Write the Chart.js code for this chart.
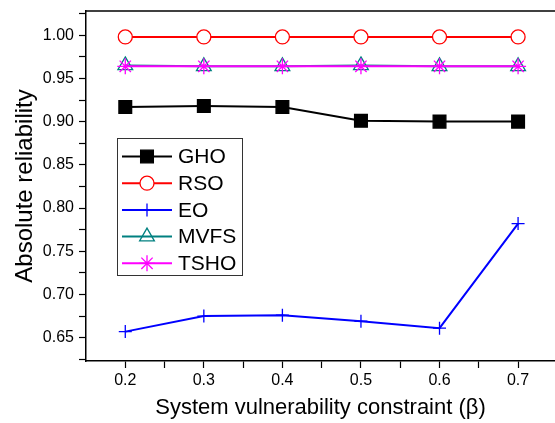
<!DOCTYPE html>
<html lang="en">

<head>
    <meta charset="UTF-8">
    <title>Absolute reliability</title>
    <style>
        body { margin: 0; background: #fff; }
        #myChart { display: block; }
    </style>
</head>

<body>
    <canvas id="myChart" width="555" height="423"></canvas>

    <script src="https://cdnjs.cloudflare.com/ajax/libs/Chart.js/4.4.1/chart.umd.js"></script>
    <script>
        // values
        var beta = [0.2, 0.3, 0.4, 0.5, 0.6, 0.7];
        var gho = [0.917, 0.918, 0.917, 0.901, 0.900, 0.900];
        var rso = [0.998, 0.998, 0.998, 0.998, 0.998, 0.998];
        var eo = [0.657, 0.675, 0.676, 0.669, 0.661, 0.782];
        var mvfs = [0.965, 0.964, 0.964, 0.965, 0.964, 0.964];
        var tsho = [0.964, 0.964, 0.964, 0.964, 0.964, 0.964];
        var seriesNames = ['GHO', 'RSO', 'EO', 'MVFS', 'TSHO'];

        var xTicks = [0.15, 0.2, 0.25, 0.3, 0.35, 0.4, 0.45, 0.5, 0.55, 0.6, 0.65, 0.7, 0.747];
        var yTicks = [0.625, 0.65, 0.675, 0.7, 0.725, 0.75, 0.775, 0.8, 0.825, 0.85, 0.875, 0.9, 0.925, 0.95, 0.975, 1.0, 1.025];

        var fontName = "'Liberation Sans', Arial, sans-serif";

        function pts(vals) {
            return vals.map(function (v, i) { return { x: beta[i], y: v }; });
        }

        function isMajor(v, step) {
            return Math.abs(v / step - Math.round(v / step)) < 1e-6;
        }

        // legend box and top frame line
        var extras = {
            id: 'extras',
            afterDraw: function (chart) {
                var ctx = chart.ctx;
                var area = chart.chartArea;
                ctx.save();
                ctx.strokeStyle = '#000';
                ctx.lineWidth = 1.5;
                ctx.beginPath();
                ctx.moveTo(area.left, area.top);
                ctx.lineTo(chart.width, area.top);
                ctx.stroke();

                ctx.fillStyle = '#fff';
                ctx.lineWidth = 1;
                ctx.strokeStyle = '#333';
                ctx.fillRect(117, 138, 126, 138);
                ctx.strokeRect(117.5, 138.5, 125, 137);

                chart.data.datasets.forEach(function (ds, i) {
                    var y = 156.5 + i * 26.7;
                    ctx.strokeStyle = ds.borderColor;
                    ctx.lineWidth = ds.borderWidth;
                    ctx.beginPath();
                    ctx.moveTo(122, y);
                    ctx.lineTo(172, y);
                    ctx.stroke();
                    ctx.strokeStyle = ds.borderColor;
                    ctx.fillStyle = ds.pointBackgroundColor;
                    ctx.lineWidth = ds.pointBorderWidth;
                    Chart.helpers.drawPoint(ctx, {
                        pointStyle: ds.pointStyle,
                        radius: ds.pointRadius,
                        borderWidth: ds.pointBorderWidth,
                        rotation: 0
                    }, 147, y);
                    ctx.fillStyle = '#000';
                    ctx.font = '21px ' + fontName;
                    ctx.textBaseline = 'middle';
                    ctx.fillText(ds.label, 178, y + 1);
                });
                ctx.restore();
            }
        };

        function line(label, data, color, style, radius, fill, order) {
            return {
                label: label,
                data: pts(data),
                borderColor: color,
                borderWidth: 2,
                pointStyle: style,
                pointRadius: radius,
                pointHoverRadius: radius,
                pointBackgroundColor: fill,
                pointBorderColor: color,
                pointBorderWidth: 1.3,
                tension: 0,
                order: order
            };
        }

        var ctx = document.getElementById('myChart').getContext('2d');
        var myChart = new Chart(ctx, {
            type: 'line',
            data: {
                datasets: [
                    line(seriesNames[0], gho, '#000000', 'rect', 9, '#000000', 0),
                    line(seriesNames[1], rso, '#ff0000', 'circle', 7, '#ffffff', 0),
                    line(seriesNames[2], eo, '#0000ff', 'cross', 6.5, '#0000ff', 0),
                    line(seriesNames[3], mvfs, '#008080', 'triangle', 8.5, 'rgba(0,0,0,0)', 1),
                    line(seriesNames[4], tsho, '#ff00ff', 'star', 8, '#ff00ff', 0)
                ]
            },
            options: {
                responsive: false,
                animation: false,
                layout: { autoPadding: false, padding: { top: 11, right: 0, left: 0, bottom: 0 } },
                plugins: {
                    legend: { display: false },
                    tooltip: { enabled: false }
                },
                scales: {
                    x: {
                        type: 'linear',
                        min: 0.15,
                        max: 0.747,
                        afterBuildTicks: function (s) {
                            s.ticks = xTicks.map(function (v) { return { value: v }; });
                        },
                        afterFit: function (s) {
                            s.height = 62;
                            s.paddingLeft = 0;
                            s.paddingRight = 0;
                        },
                        border: { color: '#000', width: 1.5 },
                        grid: {
                            drawOnChartArea: false,
                            tickLength: 7,
                            tickWidth: 1.2,
                            tickColor: function (c) {
                                var v = c.tick ? c.tick.value : 0;
                                return v > 0.16 && v < 0.74 ? '#000' : 'rgba(0,0,0,0)';
                            }
                        },
                        ticks: {
                            padding: 3,
                            color: '#000',
                            font: { family: fontName, size: 16 },
                            maxRotation: 0,
                            autoSkip: false,
                            callback: function (v) {
                                return isMajor(v, 0.1) && v > 0.16 ? v.toFixed(1) : '';
                            }
                        },
                        title: {
                            display: true,
                            text: 'System vulnerability constraint (\u03b2)',
                            color: '#000',
                            font: { family: fontName, size: 22, lineHeight: 1.0 }
                        }
                    },
                    y: {
                        min: 0.623,
                        max: 1.028,
                        afterBuildTicks: function (s) {
                            s.ticks = yTicks.map(function (v) { return { value: v }; });
                        },
                        afterFit: function (s) {
                            s.width = 86;
                            s.paddingTop = 0;
                            s.paddingBottom = 0;
                        },
                        border: { color: '#000', width: 1.5 },
                        grid: {
                            drawOnChartArea: false,
                            tickLength: 7,
                            tickWidth: 1.2,
                            tickColor: '#000'
                        },
                        ticks: {
                            padding: 5,
                            color: '#000',
                            font: { family: fontName, size: 16 },
                            autoSkip: false,
                            callback: function (v) {
                                return isMajor(v, 0.05) ? v.toFixed(2) : '';
                            }
                        },
                        title: {
                            display: true,
                            text: 'Absolute reliability',
                            color: '#000',
                            font: { family: fontName, size: 24, lineHeight: 1.8 }
                        }
                    }
                }
            },
            plugins: [extras]
        });
    </script>
</body>

</html>
